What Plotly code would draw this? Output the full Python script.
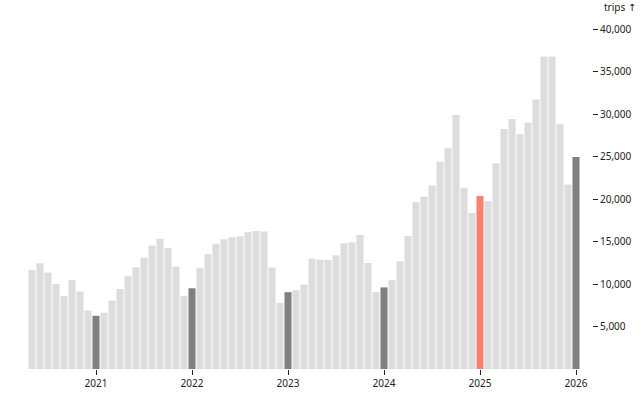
import plotly.graph_objects as go

months = [
    "2020-05", "2020-06", "2020-07", "2020-08", "2020-09", "2020-10", "2020-11", "2020-12",
    "2021-01", "2021-02", "2021-03", "2021-04", "2021-05", "2021-06", "2021-07", "2021-08", "2021-09", "2021-10", "2021-11", "2021-12",
    "2022-01", "2022-02", "2022-03", "2022-04", "2022-05", "2022-06", "2022-07", "2022-08", "2022-09", "2022-10", "2022-11", "2022-12",
    "2023-01", "2023-02", "2023-03", "2023-04", "2023-05", "2023-06", "2023-07", "2023-08", "2023-09", "2023-10", "2023-11", "2023-12",
    "2024-01", "2024-02", "2024-03", "2024-04", "2024-05", "2024-06", "2024-07", "2024-08", "2024-09", "2024-10", "2024-11", "2024-12",
    "2025-01", "2025-02", "2025-03", "2025-04", "2025-05", "2025-06", "2025-07", "2025-08", "2025-09", "2025-10", "2025-11", "2025-12",
    "2026-01",
]
trips = [
    11650, 12440, 11340, 10010, 8570, 10480, 9110, 6880,
    6260, 6610, 8050, 9420, 10910, 11970, 13100, 14510, 15330, 14240, 12040, 8600,
    9500, 11900, 13520, 14740, 15260, 15490, 15610, 16080, 16230, 16190, 11930, 7780,
    9040, 9270, 9930, 12980, 12860, 12830, 13380, 14790, 14900, 15760, 12480, 9070,
    9600, 10460, 12670, 15650, 19640, 20260, 21600, 24370, 25980, 29890, 21320, 18350,
    20340, 19750, 24210, 28240, 29400, 27650, 28990, 31700, 36770, 36770, 28790, 21710,
    24950,
]
highlight_month = "2025-01"
tick_months = ["2021-01", "2022-01", "2023-01", "2024-01", "2025-01", "2026-01"]
tick_labels = ["2021", "2022", "2023", "2024", "2025", "2026"]
y_ticks = [5000, 10000, 15000, 20000, 25000, 30000, 35000, 40000]

LIGHT = "#dddddd"
DARK = "#808080"
SALMON = "#fa8072"
colors = []
for m in months:
    if m == highlight_month:
        colors.append(SALMON)
    elif m.endswith("-01"):
        colors.append(DARK)
    else:
        colors.append(LIGHT)

fig = go.Figure(go.Bar(x=months, y=trips, marker=dict(color=colors, line=dict(width=0)),
                       hoverinfo="x+y"))

font = dict(family="Noto Sans, Open Sans, DejaVu Sans, sans-serif", size=10, color="#222222")
fig.update_layout(
    template="none",
    width=640, height=400,
    margin=dict(l=28, r=48, t=28.5, b=30.7, autoexpand=False),
    paper_bgcolor="white", plot_bgcolor="white",
    bargap=0.12,
    showlegend=False,
    font=font,
    xaxis=dict(
        type="category", range=[-0.5, 70.0], automargin=False,
        tickmode="array", tickvals=tick_months, ticktext=tick_labels,
        ticks="outside", ticklen=5, tickcolor="#222222", tickwidth=1,
        showgrid=False, zeroline=False, showline=False,
        tickfont=font,
    ),
    yaxis=dict(
        side="right", range=[0, 40000], automargin=False,
        tickmode="array", tickvals=y_ticks,
        tickformat=",d",
        ticks="outside", ticklen=5, tickcolor="#222222", tickwidth=1,
        showgrid=False, zeroline=False, showline=False,
        tickfont=font,
    ),
    annotations=[dict(
        text="trips ↑", xref="paper", yref="paper", x=1.0, y=1.0,
        xshift=10, yshift=22, xanchor="left", yanchor="middle",
        showarrow=False, font=font,
    )],
)

fig.write_html("out.html", config={"displayModeBar": False},
               post_script="document.body.style.margin='0';")
